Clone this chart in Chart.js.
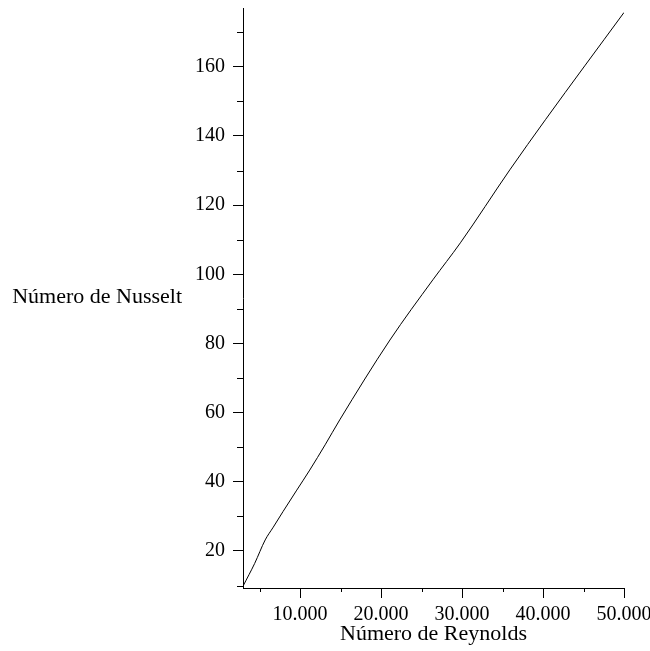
<!DOCTYPE html>
<html>
<head>
<meta charset="utf-8">
<script src="https://cdn.jsdelivr.net/npm/chart.js@4/dist/chart.umd.min.js"></script>
<style>
  body { margin: 0; background: #fff; }
  #wrap { width: 650px; height: 651px; position: relative; }
</style>
</head>
<body>
<div id="wrap"><canvas id="nusselt"></canvas></div>
<script>
// Nusselt vs Reynolds
const reynolds = [3000, 4400, 5700, 6700, 7900, 9600, 11200, 13100, 14900, 21100, 26400, 29800, 35900, 40300, 50000];
const nusselt = [10.0, 16.4, 23.2, 26.9, 31.4, 37.6, 43.4, 50.7, 57.9, 81.0, 98.4, 109.1, 130.2, 144.7, 175.7];

const xMajorTicks = [10000, 20000, 30000, 40000, 50000];
const xMinorTicks = [5000, 15000, 25000, 35000, 45000];
const yMajorTicks = [20, 40, 60, 80, 100, 120, 140, 160];
const yMinorTicks = [10, 30, 50, 70, 90, 110, 130, 150, 170];

const xTitle = 'Número de Reynolds';
const yTitle = 'Número de Nusselt';

const fontFamily = '"Liberation Serif", "Times New Roman", serif';

const thousands = (v) => String(v).replace(/\B(?=(\d{3})+(?!\d))/g, '.');

// short unlabelled ticks between the labelled ones
const minorTicks = {
  id: 'minorTicks',
  afterDraw(chart) {
    const { ctx, chartArea, scales } = chart;
    ctx.save();
    ctx.strokeStyle = '#000';
    ctx.lineWidth = 1;
    ctx.beginPath();
    yMinorTicks.forEach((v) => {
      const y = Math.round(scales.y.getPixelForValue(v)) + 0.5;
      ctx.moveTo(chartArea.left - 6, y);
      ctx.lineTo(chartArea.left, y);
    });
    xMinorTicks.forEach((v) => {
      const x = Math.round(scales.x.getPixelForValue(v)) + 0.5;
      ctx.moveTo(x, chartArea.bottom);
      ctx.lineTo(x, chartArea.bottom + 4);
    });
    ctx.stroke();
    ctx.restore();
  },
};

// horizontal y-axis title, left of the tick labels
const sideTitle = {
  id: 'sideTitle',
  afterDraw(chart) {
    const { ctx, chartArea } = chart;
    ctx.save();
    ctx.fillStyle = '#000';
    ctx.font = `22px ${fontFamily}`;
    ctx.textAlign = 'right';
    ctx.textBaseline = 'middle';
    ctx.fillText(yTitle, chartArea.left - 61, (chartArea.top + chartArea.bottom) / 2 - 1);
    ctx.restore();
  },
};

const ctx = document.getElementById('nusselt');
new Chart(ctx, {
  type: 'line',
  data: {
    datasets: [
      {
        data: reynolds.map((re, i) => ({ x: re, y: nusselt[i] })),
        borderColor: '#000',
        borderWidth: 1,
        pointRadius: 0,
        cubicInterpolationMode: 'monotone',
        fill: false,
      },
    ],
  },
  options: {
    responsive: true,
    maintainAspectRatio: false,
    animation: false,
    layout: { padding: { top: 8, right: 26, left: 0, bottom: 0 } },
    plugins: {
      legend: { display: false },
      tooltip: { enabled: false },
    },
    scales: {
      x: {
        type: 'linear',
        min: 2960,
        max: 50000,
        afterBuildTicks: (scale) => {
          scale.ticks = xMajorTicks.map((v) => ({ value: v }));
        },
        afterFit: (scale) => {
          scale.height = 63;
          scale.paddingLeft = 0;
          scale.paddingRight = 0;
        },
        border: { display: true, color: '#000', width: 1 },
        grid: {
          drawOnChartArea: false,
          drawTicks: true,
          tickLength: 10,
          tickColor: '#000',
        },
        ticks: {
          color: '#000',
          padding: 5,
          maxRotation: 0,
          font: { family: fontFamily, size: 20 },
          callback: (v) => thousands(v),
        },
        title: {
          display: true,
          text: xTitle,
          color: '#000',
          font: { family: fontFamily, size: 22 },
          padding: { top: 0, bottom: 4 },
        },
      },
      y: {
        type: 'linear',
        min: 9.3,
        max: 177,
        afterBuildTicks: (scale) => {
          scale.ticks = yMajorTicks.map((v) => ({ value: v }));
        },
        afterFit: (scale) => {
          scale.width = 243;
          scale.paddingTop = 0;
          scale.paddingBottom = 0;
        },
        border: { display: true, color: '#000', width: 1 },
        grid: {
          drawOnChartArea: false,
          drawTicks: true,
          tickLength: 10,
          tickColor: '#000',
        },
        ticks: {
          color: '#000',
          padding: 8,
          font: { family: fontFamily, size: 20 },
        },
      },
    },
  },
  plugins: [minorTicks, sideTitle],
});
</script>
</body>
</html>
